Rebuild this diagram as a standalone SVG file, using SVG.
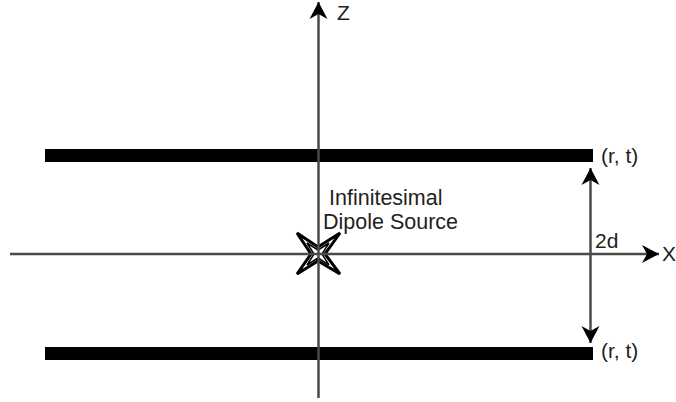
<svg xmlns="http://www.w3.org/2000/svg" width="676" height="402" viewBox="0 0 676 402">
  <style>
    .lbl { font-family: "Liberation Sans", Arial, sans-serif; font-size: 21px; fill: #231f20; }
    .lbl-big { font-size: 21.5px; }
    .axis { stroke: #4a4a4a; stroke-width: 2.5; fill: none; }
    .plate { fill: #000; }
    .star { fill: #fff; stroke: #000; stroke-width: 3; stroke-linejoin: miter; }
    .star-inner { fill: none; stroke: #000; stroke-width: 1.5; }
  </style>
  <defs>
    <marker id="arr" markerUnits="userSpaceOnUse" markerWidth="20" markerHeight="20" viewBox="-17 -10 18 20" refX="0" refY="0" orient="auto">
      <path d="M0,0 L-17,-9 L-12,0 L-17,9 Z" fill="#000"/>
    </marker>
    <marker id="arrStart" markerUnits="userSpaceOnUse" markerWidth="20" markerHeight="20" viewBox="-1 -10 18 20" refX="0" refY="0" orient="auto">
      <path d="M0,0 L17,-9 L12,0 L17,9 Z" fill="#000"/>
    </marker>
  </defs>
  <rect width="676" height="402" fill="#fff"/>

  <g id="top-plate">
    <rect class="plate" x="45" y="149" width="548" height="13"/>
    <text class="lbl" x="601" y="163">(r, t)</text>
  </g>
  <g id="bottom-plate">
    <rect class="plate" x="45" y="347" width="548" height="13"/>
    <text class="lbl" x="601" y="358">(r, t)</text>
  </g>

  <g id="dipole-source">
    <path class="star" d="M297,233 L318,247 L340,233 L325,254 L340,274 L318,261 L297,274 L311,254 Z"/>
    <path class="star-inner" d="M307,243 L318,250 L329,243 L322,254 L329,265 L318,258 L307,265 L314,254 Z"/>
    <text class="lbl lbl-big" x="329" y="205">Infinitesimal</text>
    <text class="lbl lbl-big" x="323" y="229">Dipole Source</text>
  </g>

  <g id="connectors">
    <line id="x-axis" class="axis" x1="10" y1="254" x2="659" y2="254" marker-end="url(#arr)"/>
    <line id="z-axis" class="axis" x1="318.5" y1="398" x2="318.5" y2="2" marker-end="url(#arr)"/>
    <line id="gap-dimension" class="axis" x1="590.5" y1="168" x2="590.5" y2="343" marker-start="url(#arrStart)" marker-end="url(#arr)"/>
  </g>

  <g id="axis-labels">
    <text class="lbl" x="337" y="20">Z</text>
    <text class="lbl" x="662" y="261">X</text>
    <text class="lbl" x="595" y="248">2d</text>
  </g>
</svg>
